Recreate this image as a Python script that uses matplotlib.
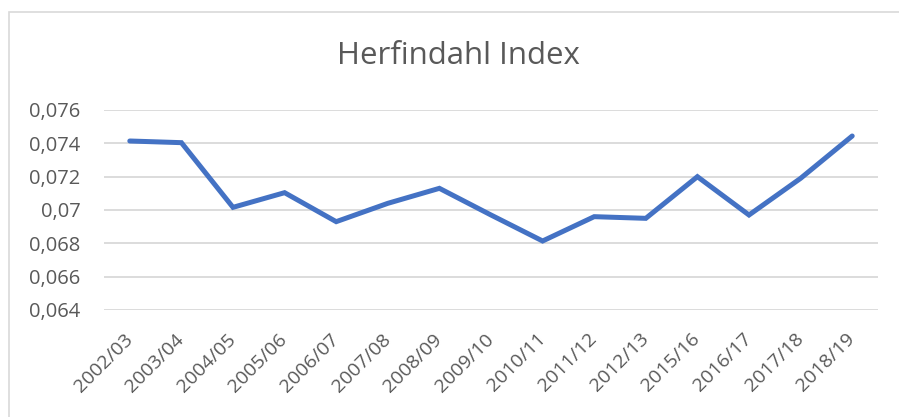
import matplotlib
matplotlib.use('Agg')
import matplotlib.pyplot as plt
from matplotlib.patches import Rectangle

seasons = ['2002/03', '2003/04', '2004/05', '2005/06', '2006/07', '2007/08', '2008/09',
           '2009/10', '2010/11', '2011/12', '2012/13', '2015/16', '2016/17', '2017/18', '2018/19']
hhi = [0.07414, 0.07404, 0.07016, 0.07104, 0.0693, 0.0704, 0.0713,
       0.0697, 0.06814, 0.0696, 0.0695, 0.0720, 0.0697, 0.0719, 0.07444]
yticks = [0.064, 0.066, 0.068, 0.070, 0.072, 0.074, 0.076]
ytick_labels = ['0,064', '0,066', '0,068', '0,07', '0,072', '0,074', '0,076']

grey = '#595959'
plt.rcParams['font.family'] = ['Open Sans', 'DejaVu Sans']

fig = plt.figure(figsize=(8.99, 4.17), dpi=100)
# chart border (Excel chart area)
fig.patches.append(Rectangle((9 / 899, -0.1), 1.2, 1.1 - 12 / 417, transform=fig.transFigure,
                             fill=False, edgecolor='#d9d9d9', linewidth=1.2))

ax = fig.add_axes([104 / 899, 1 - 310 / 417, 774 / 899, 200 / 417])
x = list(range(len(seasons)))
ax.plot(x, hhi, color='#4472C4', linewidth=3.6, solid_joinstyle='miter', solid_capstyle='round')

ax.set_xlim(-0.5, len(seasons) - 0.5)
ax.set_ylim(0.064, 0.076)
ax.set_yticks(yticks)
ax.set_yticklabels(ytick_labels)
ax.set_xticks(x)
ax.set_xticklabels(seasons, rotation=45, ha='right', va='center', rotation_mode='anchor')
ax.yaxis.grid(True, color='#d9d9d9', linewidth=1.3)
ax.set_axisbelow(True)
for s in ax.spines.values():
    s.set_visible(False)
ax.tick_params(axis='y', length=0, pad=17, labelsize=14.5, labelcolor=grey)
ax.tick_params(axis='x', length=0, pad=19, labelsize=14, labelcolor=grey)

fig.text(458 / 899, 1 - 56 / 417, 'Herfindahl Index', ha='center', va='center',
         fontsize=22.5, color=grey)

fig.savefig('out.png', dpi=100)
